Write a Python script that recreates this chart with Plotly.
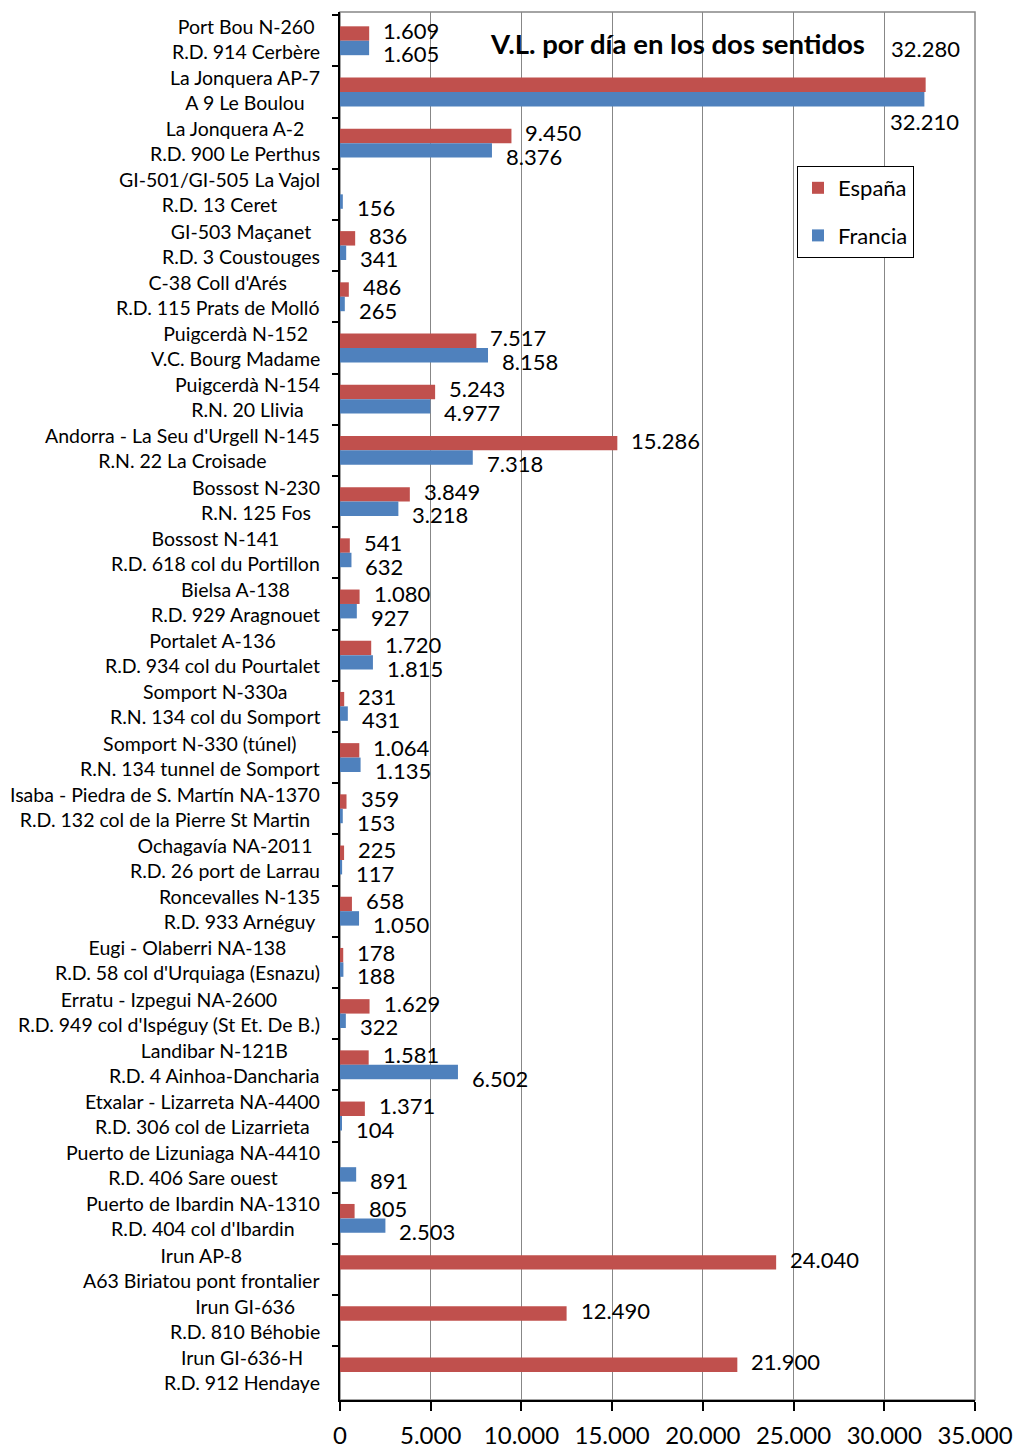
import plotly.graph_objects as go

# ---------------- data ----------------
esp_names = [
    "Port Bou N-260", "La Jonquera AP-7", "La Jonquera A-2", "GI-501/GI-505 La Vajol",
    "GI-503 Maçanet", "C-38 Coll d'Arés", "Puigcerdà N-152", "Puigcerdà N-154",
    "Andorra - La Seu d'Urgell N-145", "Bossost N-230", "Bossost N-141", "Bielsa A-138",
    "Portalet A-136", "Somport N-330a", "Somport N-330 (túnel)",
    "Isaba - Piedra de S. Martín NA-1370", "Ochagavía NA-2011", "Roncevalles N-135",
    "Eugi - Olaberri NA-138", "Erratu - Izpegui NA-2600", "Landibar N-121B",
    "Etxalar - Lizarreta NA-4400", "Puerto de Lizuniaga NA-4410", "Puerto de Ibardin NA-1310",
    "Irun AP-8", "Irun GI-636", "Irun GI-636-H",
]
fra_names = [
    "R.D. 914 Cerbère", "A 9 Le Boulou", "R.D. 900 Le Perthus", "R.D. 13 Ceret",
    "R.D. 3 Coustouges", "R.D. 115 Prats de Molló", "V.C. Bourg Madame", "R.N. 20 Llivia",
    "R.N. 22 La Croisade", "R.N. 125 Fos", "R.D. 618 col du Portillon", "R.D. 929 Aragnouet",
    "R.D. 934 col du Pourtalet", "R.N. 134 col du Somport", "R.N. 134 tunnel de Somport",
    "R.D. 132 col de la Pierre St Martin", "R.D. 26 port de Larrau", "R.D. 933 Arnéguy",
    "R.D. 58 col d'Urquiaga (Esnazu)", "R.D. 949 col d'Ispéguy (St Et. De B.)",
    "R.D. 4 Ainhoa-Dancharia", "R.D. 306 col de Lizarrieta", "R.D. 406 Sare ouest",
    "R.D. 404 col d'Ibardin", "A63 Biriatou pont frontalier", "R.D. 810 Béhobie",
    "R.D. 912 Hendaye",
]
espana = [1609, 32280, 9450, None, 836, 486, 7517, 5243, 15286, 3849, 541, 1080,
          1720, 231, 1064, 359, 225, 658, 178, 1629, 1581, 1371, None, 805,
          24040, 12490, 21900]
francia = [1605, 32210, 8376, 156, 341, 265, 8158, 4977, 7318, 3218, 632, 927,
           1815, 431, 1135, 153, 117, 1050, 188, 322, 6502, 104, 891, 2503,
           None, None, None]
x_ticks = [0, 5000, 10000, 15000, 20000, 25000, 30000, 35000]
series_names = ["España", "Francia"]
title_text = "V.L. por día en los dos sentidos"

# ---------------- styling ----------------
FONT = "Lato"
RED = "#C0504D"
BLUE = "#4F81BD"
GRID = "#878787"
W, H = 1019, 1448
ML, MR, MT, MB = 340, 44, 12, 48
plot_w = W - ML - MR
plot_h = H - MT - MB
x_max = x_ticks[-1]
px_per_unit = plot_w / x_max
ncat = len(esp_names)
band = plot_h / ncat
bargap = 0.436
bar_px = band * (1 - bargap) / 2

categories = [f"{e}<br>{f}" for e, f in zip(esp_names, fra_names)]


def fmt(v):
    return f"{v:,}".replace(",", ".")


fig = go.Figure()
fig.add_trace(go.Bar(y=categories, x=espana, orientation="h", name=series_names[0],
                     marker=dict(color=RED, line=dict(width=0)),
                     legendgroup="a"))
fig.add_trace(go.Bar(y=categories, x=francia, orientation="h", name=series_names[1],
                     marker=dict(color=BLUE, line=dict(width=0)),
                     legendgroup="b"))

annotations = []
# category labels (two centred lines)
for c in categories:
    annotations.append(dict(
        x=0, xref="paper", y=c, yref="y", text=c, showarrow=False,
        xanchor="right", yanchor="middle", align="center", xshift=-18, yshift=2,
        font=dict(family=FONT, size=19.5, color="#000000")))

# data labels
label_px = 75
for vals, sign in ((espana, 1), (francia, -1)):
    for c, v in zip(categories, vals):
        if v is None:
            continue
        end_px = v * px_per_unit
        if end_px + 14 + label_px <= plot_w:
            annotations.append(dict(
                x=v, xref="x", y=c, yref="y", text=fmt(v), showarrow=False,
                xanchor="left", yanchor="middle", xshift=12,
                yshift=(bar_px / 2 + 3) if sign > 0 else -(bar_px / 2 + 6),
                font=dict(family=FONT, size=22, color="#000000")))
        else:
            annotations.append(dict(
                x=v, xref="x", y=c, yref="y", text=fmt(v), showarrow=False,
                xanchor="center", yanchor="middle",
                yshift=43 if sign > 0 else -30,
                font=dict(family=FONT, size=22, color="#000000")))

# title inside the plot area
annotations.append(dict(
    x=(677 - ML) / plot_w, xref="paper", y=1 - (43 - MT) / plot_h, yref="paper",
    text="<b>" + title_text + "</b>", showarrow=False,
    xanchor="center", yanchor="middle",
    font=dict(family=FONT, size=27.5, color="#000000")))

fig.update_layout(
    width=W, height=H,
    margin=dict(l=ML, r=MR, t=MT, b=MB, pad=0, autoexpand=False),
    paper_bgcolor="white", plot_bgcolor="white",
    barmode="group", bargap=bargap, bargroupgap=0,
    separators=",.",
    font=dict(family=FONT, color="#000000"),
    showlegend=True,
    legend=dict(
        x=(797 - ML) / plot_w, y=1 - (166 - MT) / plot_h, xanchor="left", yanchor="top",
        bgcolor="white", bordercolor="#000000", borderwidth=1,
        font=dict(family=FONT, size=22, color="#000000"),
        traceorder="grouped", tracegroupgap=16,
    ),
    annotations=annotations,
    shapes=[dict(type="rect", xref="paper", yref="paper", x0=0, x1=1, y0=0, y1=1,
                 line=dict(color=GRID, width=1.5), layer="below")],
)

fig.update_xaxes(
    range=[0, x_max], tickvals=x_ticks, tickformat=",d",
    showgrid=True, gridcolor=GRID, gridwidth=1,
    showline=True, linecolor="#000000", linewidth=1.5,
    ticks="outside", ticklen=9, tickcolor="#000000", tickwidth=1.5,
    ticklabelstandoff=4,
    tickfont=dict(family=FONT, size=24, color="#000000"),
    zeroline=False, fixedrange=True, automargin=False,
)
fig.update_yaxes(
    type="category", autorange="reversed",
    showticklabels=False, showgrid=False, zeroline=False,
    showline=True, linecolor="#000000", linewidth=1.5,
    ticks="outside", ticklen=6, tickson="boundaries", tickcolor="#000000", tickwidth=1.5,
    fixedrange=True, automargin=False,
)

fig.write_html("out.html", config={"displayModeBar": False},
               post_script="document.body.style.margin='0px';document.body.style.overflow='hidden';")
